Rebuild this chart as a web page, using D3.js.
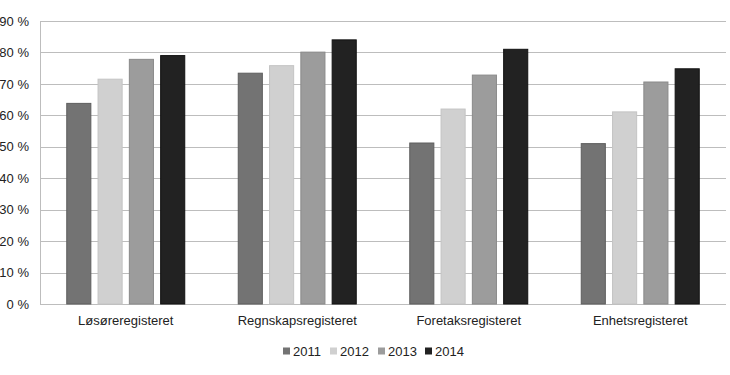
<!DOCTYPE html>
<html>
<head>
<meta charset="utf-8">
<script src="https://cdn.jsdelivr.net/npm/d3@7"></script>
<style>
  body { margin: 0; background: #fff; }
  svg { display: block; font-family: "Liberation Sans", Arial, sans-serif; }
</style>
</head>
<body>
<div id="chart"></div>
<script>
// chart values
const categories = ['Løsøreregisteret', 'Regnskapsregisteret', 'Foretaksregisteret', 'Enhetsregisteret'];
const years = ['2011', '2012', '2013', '2014'];
const values2011 = [63.8, 73.4, 51.2, 51];
const values2012 = [71.5, 75.8, 62, 61.1];
const values2013 = [77.8, 80.1, 72.8, 70.6];
const values2014 = [79, 84, 81, 74.8];
const yTicks = [0, 10, 20, 30, 40, 50, 60, 70, 80, 90];

const series = [values2011, values2012, values2013, values2014];
const fills = ['#737373', '#d0d0d0', '#9c9c9c', '#222222'];
const strokes = ['#5e5e5e', '#c4c4c4', '#8a8a8a', '#111111'];

const width = 730, height = 375;
const margin = { top: 21, right: 4, bottom: 71, left: 40 };

const svg = d3.select('#chart').append('svg')
    .attr('width', width)
    .attr('height', height);

const x0 = d3.scaleBand()
    .domain(categories)
    .range([margin.left, width - margin.right]);

const x1 = d3.scaleBand()
    .domain(years)
    .range([-62.6, 62.6])
    .paddingInner(0.23)
    .paddingOuter(0.115);

const y = d3.scaleLinear()
    .domain([0, 90])
    .range([height - margin.bottom, margin.top]);

// gridlines
svg.append('g')
    .selectAll('line')
    .data(yTicks)
    .enter()
    .append('line')
        .attr('x1', margin.left)
        .attr('x2', width - margin.right)
        .attr('y1', d => Math.round(y(d)) + 0.5)
        .attr('y2', d => Math.round(y(d)) + 0.5)
        .attr('stroke', '#bdbdbd')
        .attr('stroke-width', 1);

// left axis line
svg.append('line')
    .attr('x1', margin.left + 0.5)
    .attr('x2', margin.left + 0.5)
    .attr('y1', y(90))
    .attr('y2', y(0))
    .attr('stroke', '#bdbdbd');

// y labels
const yAxis = d3.axisLeft(y)
    .tickValues(yTicks)
    .tickSize(0)
    .tickPadding(11)
    .tickFormat(d => d + ' %');

svg.append('g')
    .attr('transform', `translate(${margin.left},0)`)
    .call(yAxis)
    .call(g => g.select('.domain').remove())
    .selectAll('text')
        .attr('font-size', 13)
        .attr('font-family', '"Liberation Sans", Arial, sans-serif')
        .attr('fill', '#222');

// bars
const groups = svg.append('g')
    .selectAll('g')
    .data(categories)
    .enter()
    .append('g')
        .attr('transform', d => `translate(${x0(d) + x0.bandwidth() / 2},0)`);

groups.selectAll('rect')
    .data((d, i) => years.map((yr, j) => ({ yr, j, v: series[j][i] })))
    .enter()
    .append('rect')
        .attr('x', d => x1(d.yr))
        .attr('y', d => y(d.v))
        .attr('width', x1.bandwidth())
        .attr('height', d => y(0) - y(d.v))
        .attr('fill', d => fills[d.j])
        .attr('stroke', d => strokes[d.j])
        .attr('stroke-width', 1);

// x labels
const xAxis = d3.axisBottom(x0).tickSize(0).tickPadding(12);
svg.append('g')
    .attr('transform', `translate(0,${y(0)})`)
    .call(xAxis)
    .call(g => g.select('.domain').remove())
    .selectAll('text')
        .attr('font-size', 13)
        .attr('font-family', '"Liberation Sans", Arial, sans-serif')
        .attr('fill', '#222');

// legend
const legendX = [283, 330, 378, 425];
const legend = svg.append('g')
    .selectAll('g')
    .data(years)
    .enter()
    .append('g')
        .attr('transform', (d, i) => `translate(${legendX[i]},351)`);

legend.append('rect')
    .attr('x', 0)
    .attr('y', -3.5)
    .attr('width', 7)
    .attr('height', 7)
    .attr('fill', (d, i) => fills[i]);

legend.append('text')
    .attr('x', 10)
    .attr('y', 0)
    .attr('dy', '0.35em')
    .attr('font-size', 13)
    .attr('fill', '#222')
    .text(d => d);
</script>
</body>
</html>
